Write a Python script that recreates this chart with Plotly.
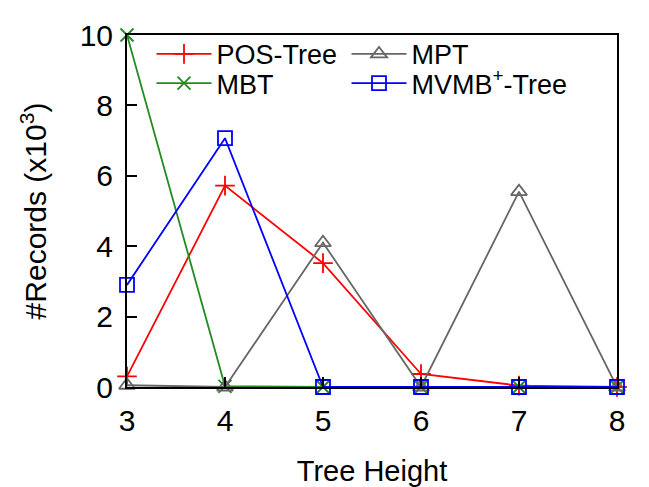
import plotly.graph_objects as go

heights = [3, 4, 5, 6, 7, 8]
pos_tree = [0.3, 5.72, 3.52, 0.37, 0.04, 0.0]
mbt = [10.0, 0.02, 0.0, 0.0, 0.0, 0.0]
mpt = [0.05, 0.0, 4.1, 0.0, 5.55, 0.0]
mvmb = [2.9, 7.07, 0.0, 0.0, 0.0, 0.0]
y_ticks = [0, 2, 4, 6, 8, 10]

FONT = "Liberation Sans, Arial, sans-serif"

fig = go.Figure()
series = [
    ("POS-Tree", pos_tree, "#ff0000", "cross-thin-open", "legend", 14, 125),
    ("MBT", mbt, "#228b22", "x-thin-open", "legend2", 13, 125),
    ("MPT", mpt, "#666666", "triangle-up-open", "legend", 14, 200),
    ("MVMB<sup>+</sup>-Tree", mvmb, "#0000ff", "square-open", "legend2", 14, 200),
]
for name, vals, color, sym, leg, size, lw in series:
    fig.add_trace(go.Scatter(
        x=heights, y=vals, name=name, mode="lines+markers",
        line=dict(color=color, width=1.8),
        marker=dict(symbol=sym, size=size, color=color, line=dict(color=color, width=1.8)),
        cliponaxis=False, legend=leg, legendwidth=lw,
    ))

leg_common = dict(orientation="h", xanchor="left", yanchor="middle",
                  bgcolor="rgba(0,0,0,0)", font=dict(size=27),
                  itemwidth=55, borderwidth=0)

fig.update_layout(
    width=641, height=479,
    margin=dict(l=119, r=32, t=27, b=100),
    plot_bgcolor="white", paper_bgcolor="white",
    font=dict(family=FONT, size=28, color="black"),
    showlegend=True,
    legend=dict(x=0.05, y=0.945, **leg_common),
    legend2=dict(x=0.05, y=0.862, **leg_common),
    xaxis=dict(range=[3, 8], tickvals=heights, ticks="inside", ticklen=10, tickwidth=1.5,
               tickcolor="black", showline=True, linecolor="black", linewidth=2, mirror=True,
               showgrid=False, zeroline=False, ticklabelstandoff=6, automargin=False,
               title=dict(text="Tree Height", font=dict(size=29), standoff=30),
               tickfont=dict(size=30)),
    yaxis=dict(range=[0, 10], tickvals=y_ticks, ticks="inside", ticklen=10, tickwidth=1.5,
               tickcolor="black", showline=True, linecolor="black", linewidth=2, mirror=True,
               showgrid=False, zeroline=False, ticklabelstandoff=6, automargin=False,
               title=dict(text="#Records (x10<sup>3</sup>)", font=dict(size=30), standoff=24),
               tickfont=dict(size=30)),
)

fig.write_html("out.html")
